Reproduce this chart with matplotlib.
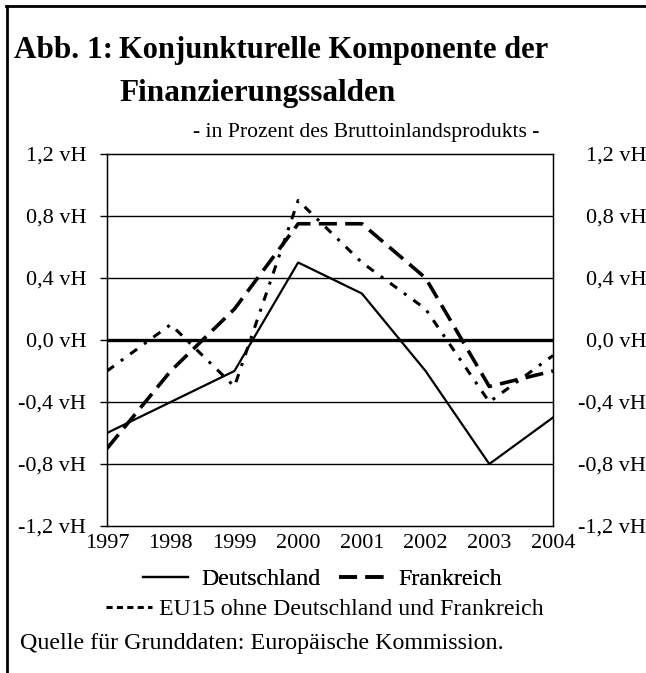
import matplotlib.pyplot as plt
from matplotlib.lines import Line2D

plt.rcParams['font.family'] = ['Liberation Serif', 'DejaVu Serif']

years = [1997, 1998, 1999, 2000, 2001, 2002, 2003, 2004]
deutschland = [-0.6, -0.4, -0.2, 0.5, 0.3, -0.2, -0.8, -0.5]
frankreich = [-0.7, -0.2, 0.2, 0.75, 0.75, 0.4, -0.3, -0.2]
eu15 = [-0.2, 0.1, -0.3, 0.9, 0.5, 0.2, -0.4, -0.1]
yticks = [-1.2, -0.8, -0.4, 0.0, 0.4, 0.8, 1.2]
ylabels = ['-1,2 vH', '-0,8 vH', '-0,4 vH', '0,0 vH', '0,4 vH', '0,8 vH', '1,2 vH']
names = ['Deutschland', 'Frankreich', 'EU15 ohne Deutschland und Frankreich']

W, H = 646, 673
fig = plt.figure(figsize=(W / 100, H / 100), dpi=100)
ax = fig.add_axes([107 / W, 1 - 526 / H, 446 / W, 372 / H])

# grid
for y in yticks[1:-1]:
    ax.axhline(y, color='black', lw=2.4 if y == 0 else 1.0, zorder=1)

ax.plot(years, deutschland, color='black', lw=1.6, zorder=3)
ax.plot(years, frankreich, color='black', lw=2.6, dashes=(5, 2.3), zorder=3)
ax.plot(years, eu15, color='black', lw=2.2, dashes=(2.8, 2.8, 1, 2.8), zorder=3)

ax.set_xlim(1997, 2004)
ax.set_ylim(-1.2, 1.2)
ax.set_xticks(years)
ax.set_xticklabels([str(y) for y in years], fontsize=16)
ax.tick_params(axis='x', length=0, pad=6)
ax.set_yticks(yticks)
ax.set_yticklabels(ylabels, fontsize=16)
ax.tick_params(axis='y', length=5, width=1, pad=10)
for s in ax.spines.values():
    s.set_linewidth(1.0)

ax2 = ax.twinx()
ax2.set_ylim(-1.2, 1.2)
ax2.set_yticks(yticks)
ax2.set_yticklabels(ylabels, fontsize=16, ha='right')
ax2.tick_params(axis='y', length=0, pad=67)

# frame
fig.add_artist(Line2D([6 / W, 1], [1 - 6 / H, 1 - 6 / H], color='black', lw=2))
fig.add_artist(Line2D([7 / W, 7 / W], [0, 1 - 6 / H], color='black', lw=2))

fig.text(14 / W, 1 - 58 / H, 'Abb. 1:', fontsize=22.5, fontweight='bold', va='baseline')
fig.text(119 / W, 1 - 58 / H, 'Konjunkturelle Komponente der', fontsize=22,
         fontweight='bold', va='baseline')
fig.text(119 / W, 1 - 101 / H, 'Finanzierungssalden', fontsize=22.5,
         fontweight='bold', va='baseline')
fig.text(193 / W, 1 - 137 / H, '- in Prozent des Bruttoinlandsprodukts -',
         fontsize=15.6, va='baseline')

h1 = Line2D([], [], color='black', lw=1.6)
h2 = Line2D([], [], color='black', lw=2.6, dashes=(5, 2.3))
h3 = Line2D([], [], color='black', lw=2.2, dashes=(2, 1.4))
leg1 = fig.legend([h1, h2], names[:2], loc='center', ncol=2,
                  bbox_to_anchor=(322 / W, 1 - 579 / H), frameon=False,
                  fontsize=17.2, handlelength=1.9, handletextpad=0.55,
                  columnspacing=0.8, borderpad=0)
fig.legend([h3], names[2:], loc='center', bbox_to_anchor=(325 / W, 1 - 609 / H),
           frameon=False, fontsize=17.2, handlelength=1.9, handletextpad=0.3,
           borderpad=0)
fig.add_artist(leg1)

fig.text(20 / W, 1 - 649 / H, 'Quelle für Grunddaten: Europäische Kommission.',
         fontsize=17.3, va='baseline')

fig.savefig('out.png', dpi=100)
